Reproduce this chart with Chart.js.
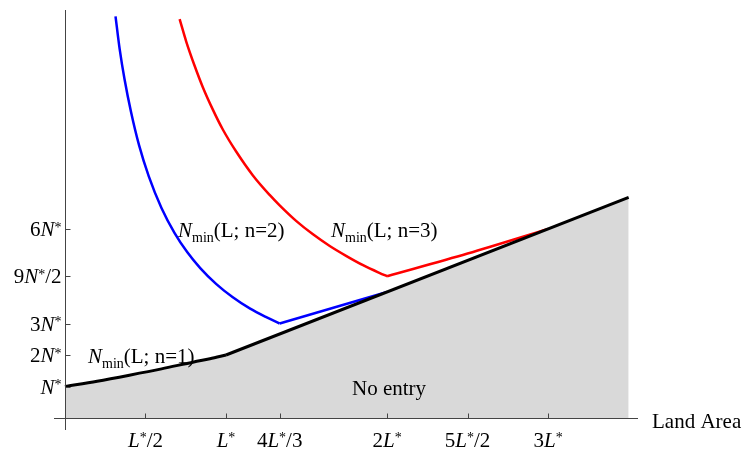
<!DOCTYPE html>
<html>
<head>
<meta charset="utf-8">
<script src="https://cdn.jsdelivr.net/npm/chart.js@4/dist/chart.umd.min.js"></script>
<style>
  body { margin: 0; background: #fff; }
</style>
</head>
<body>
<canvas id="myChart" width="744" height="450"></canvas>
<script>
// land area in units of L*, population in units of N*
const blackL = [0, 0.2, 0.4, 0.6, 0.8, 0.9, 1, 3.5];
const blackN = [1, 1.17, 1.36, 1.56, 1.78, 1.88, 2, 7];

const blueL = [0.314, 0.34, 0.37, 0.41, 0.46, 0.52, 0.6, 0.68, 0.76, 0.84, 0.94, 1.04, 1.15, 1.25, 1.333, 2.0];
const blueN = [12.75, 11.7, 10.75, 9.72, 8.66, 7.68, 6.66, 5.88, 5.26, 4.76, 4.25, 3.84, 3.47, 3.2, 3.0, 4.0];

const redL = [0.712, 0.753, 0.805, 0.856, 0.919, 0.981, 1.064, 1.167, 1.271, 1.333, 1.437, 1.54, 1.644, 1.748, 1.851, 1.955, 2.0, 2.5, 3.0];
const redN = [12.66, 11.95, 11.18, 10.5, 9.78, 9.15, 8.45, 7.7, 7.08, 6.75, 6.25, 5.83, 5.46, 5.14, 4.85, 4.6, 4.5, 5.22, 6.0];

const xTicks = [0.5, 1, 4 / 3, 2, 2.5, 3];
const xTickLabels = ["L*/2", "L*", "4L*/3", "2L*", "5L*/2", "3L*"];
const yTicks = [1, 2, 3, 4.5, 6];
const yTickLabels = ["N*", "2N*", "3N*", "9N*/2", "6N*"];

const toPoints = (xs, ys) => xs.map((v, i) => ({ x: v, y: ys[i] }));

// split each curve at its corner so the smooth part and the straight part are drawn apart
function splitAt(xs, ys, corner) {
  let k = xs.indexOf(corner);
  return [toPoints(xs.slice(0, k + 1), ys.slice(0, k + 1)), toPoints(xs.slice(k), ys.slice(k))];
}
const [black1, black2] = splitAt(blackL, blackN, 1);
const [blue1, blue2] = splitAt(blueL, blueN, 1.333);
const [red1, red2] = splitAt(redL, redN, 2.0);

const FONT = '"Liberation Serif", "Times New Roman", serif';

function fontFor(seg, size) {
  let s = size;
  if (seg.sup || seg.sub) s = Math.round(size * 0.66);
  return (seg.it ? "italic " : "") + s + "px " + FONT;
}

// turn "9N*/2" into pieces: N and L italic, * raised
function parseLabel(str) {
  let segs = [];
  for (let ch of str) {
    if (ch === "N" || ch === "L") segs.push({ t: ch, it: true });
    else if (ch === "*") segs.push({ t: ch, sup: true });
    else segs.push({ t: ch });
  }
  return segs;
}

function drawSegs(ctx, segs, x, y, size, align) {
  let widths = segs.map(s => {
    ctx.font = fontFor(s, size);
    return ctx.measureText(s.t).width;
  });
  let total = widths.reduce((a, b) => a + b, 0);
  let cx = x;
  if (align === "right") cx = x - total;
  if (align === "center") cx = x - total / 2;
  ctx.textAlign = "left";
  ctx.textBaseline = "alphabetic";
  segs.forEach((s, i) => {
    ctx.font = fontFor(s, size);
    let dy = 0;
    if (s.sup) dy = -size * 0.2;
    if (s.sub) dy = size * 0.24;
    ctx.fillText(s.t, cx, y + dy);
    cx += widths[i];
  });
}

const axesPlugin = {
  id: "axes",
  afterDatasetsDraw(chart) {
    const ctx = chart.ctx;
    const area = chart.chartArea;
    const xs = chart.scales.x;
    const ys = chart.scales.y;
    const x0 = Math.round(xs.getPixelForValue(0)) + 0.5;
    const y0 = Math.round(ys.getPixelForValue(0)) + 0.5;
    ctx.save();
    ctx.strokeStyle = "#444";
    ctx.lineWidth = 1;
    ctx.beginPath();
    ctx.moveTo(area.left, y0);
    ctx.lineTo(area.right, y0);
    ctx.moveTo(x0, area.top);
    ctx.lineTo(x0, area.bottom);
    for (let v of xTicks) {
      let px = Math.round(xs.getPixelForValue(v)) + 0.5;
      ctx.moveTo(px, y0);
      ctx.lineTo(px, y0 - 5);
    }
    for (let v of yTicks) {
      let py = Math.round(ys.getPixelForValue(v)) + 0.5;
      ctx.moveTo(x0, py);
      ctx.lineTo(x0 + 5, py);
    }
    ctx.stroke();

    ctx.fillStyle = "#000";
    const size = 21;
    xTicks.forEach((v, i) => {
      drawSegs(ctx, parseLabel(xTickLabels[i]), xs.getPixelForValue(v), y0 + 28, size, "center");
    });
    yTicks.forEach((v, i) => {
      drawSegs(ctx, parseLabel(yTickLabels[i]), x0 - 4, ys.getPixelForValue(v) + 7, size, "right");
    });
    drawSegs(ctx, [{ t: "Land Area" }], area.right + 14, y0 + 9, size, "left");

    // curve labels
    const nmin = n => [{ t: "N", it: true }, { t: "min", sub: true }, { t: "(L; n=" + n + ")" }];
    drawSegs(ctx, nmin(1), 88, 363, size, "left");
    drawSegs(ctx, nmin(2), 178, 237, size, "left");
    drawSegs(ctx, nmin(3), 331, 237, size, "left");
    drawSegs(ctx, [{ t: "No entry" }], 389, 395, size, "center");
    ctx.restore();
  }
};

const line = (data, color, width, order, smooth, fill) => ({
  data: data,
  showLine: true,
  borderColor: color,
  borderWidth: width,
  backgroundColor: "#d9d9d9",
  fill: fill ? "origin" : false,
  pointRadius: 0,
  tension: 0,
  cubicInterpolationMode: smooth ? "monotone" : "default",
  order: order,
});

const ctx = document.getElementById("myChart").getContext("2d");
const myChart = new Chart(ctx, {
  type: "scatter",
  data: {
    datasets: [
      line(black1, "#000", 3, 0, true, true),
      line(black2, "#000", 3, 0, false, true),
      line(blue1, "#0000ff", 2.5, 1, true, false),
      line(blue2, "#0000ff", 2.5, 1, false, false),
      line(red1, "#ff0000", 2.5, 1, true, false),
      line(red2, "#ff0000", 2.5, 1, true, false),
    ],
  },
  options: {
    responsive: false,
    animation: false,
    layout: { padding: { left: 54, right: 106, top: 10, bottom: 20 } },
    scales: {
      x: { type: "linear", min: -0.068, max: 3.558, display: false },
      y: { type: "linear", min: -0.38, max: 12.95, display: false },
    },
    plugins: {
      legend: { display: false },
      tooltip: { enabled: false },
    },
  },
  plugins: [axesPlugin],
});
</script>
</body>
</html>
